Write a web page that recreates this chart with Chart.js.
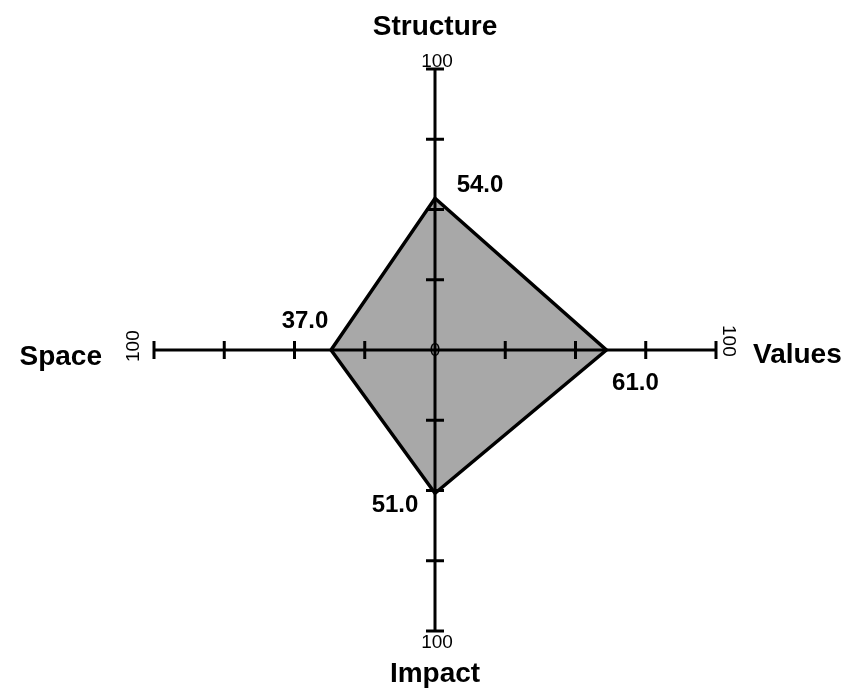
<!DOCTYPE html>
<html>
<head>
<meta charset="utf-8">
<title>Radar</title>
<script src="https://cdn.jsdelivr.net/npm/chart.js@4.4.1/dist/chart.umd.min.js"></script>
<style>
	body { margin: 0; background: #ffffff; }
	#wrap { width: 852px; height: 691px; }
</style>
</head>
<body>
<div id="wrap"><canvas id="radar" width="852" height="691"></canvas></div>
<script>
var axes = ["Structure", "Values", "Impact", "Space"];
var scores = [54, 61, 51, 37];
var tickMarks = [25, 50, 75, 100];
var scaleMin = 0;
var scaleMax = 100;

var FONT = "'Liberation Sans', Arial, sans-serif";

// where each axis title / value label / end label sits, relative to its point
var titleStyle = [
	{ align: "center", dx: 0, dy: -34 },
	{ align: "left", dx: 37, dy: 13 },
	{ align: "center", dx: 0, dy: 51 },
	{ align: "right", dx: -52, dy: 15 }
];
var valueStyle = [
	{ dx: 45, dy: -6 },
	{ dx: 29, dy: 40 },
	{ dx: -40, dy: 19 },
	{ dx: -26, dy: -22 }
];
var endStyle = [
	{ dx: 2, dy: -2, rot: 0, align: "center" },
	{ dx: 7, dy: -25, rot: Math.PI / 2, align: "left" },
	{ dx: 2, dy: 17, rot: 0, align: "center" },
	{ dx: -15, dy: 12, rot: -Math.PI / 2, align: "left" }
];

var axisDecor = {
	id: "axisDecor",
	afterDraw: function(chart) {
		var scale = chart.scales.r;
		var ctx = chart.ctx;
		ctx.save();

		// tick marks across each axis
		ctx.strokeStyle = "#000000";
		ctx.lineWidth = 3;
		for (var i = 0; i < axes.length; i++) {
			var a = scale.getIndexAngle(i) - Math.PI / 2;
			var px = -Math.sin(a), py = Math.cos(a);
			for (var j = 0; j < tickMarks.length; j++) {
				var p = scale.getPointPositionForValue(i, tickMarks[j]);
				ctx.beginPath();
				ctx.moveTo(p.x - px * 9, p.y - py * 9);
				ctx.lineTo(p.x + px * 9, p.y + py * 9);
				ctx.stroke();
			}
		}

		ctx.fillStyle = "#000000";
		ctx.textBaseline = "alphabetic";

		// "0" in the middle, "100" at each end
		ctx.font = "19px " + FONT;
		ctx.textAlign = "center";
		var c = scale.getPointPositionForValue(0, scaleMin);
		ctx.fillText(String(scaleMin), c.x, c.y + 6);
		for (var i = 0; i < axes.length; i++) {
			var e = scale.getPointPositionForValue(i, scaleMax);
			var s = endStyle[i];
			ctx.save();
			ctx.translate(e.x + s.dx, e.y + s.dy);
			ctx.rotate(s.rot);
			ctx.textAlign = s.align;
			ctx.fillText(String(scaleMax), 0, 0);
			ctx.restore();
		}

		// axis titles
		ctx.font = "bold 28px " + FONT;
		for (var i = 0; i < axes.length; i++) {
			var e = scale.getPointPositionForValue(i, scaleMax);
			ctx.textAlign = titleStyle[i].align;
			ctx.fillText(axes[i], e.x + titleStyle[i].dx, e.y + titleStyle[i].dy);
		}

		// value labels next to the polygon corners
		ctx.font = "bold 24px " + FONT;
		ctx.textAlign = "center";
		for (var i = 0; i < scores.length; i++) {
			var v = scale.getPointPositionForValue(i, scores[i]);
			ctx.fillText(scores[i].toFixed(1), v.x + valueStyle[i].dx, v.y + valueStyle[i].dy);
		}
		ctx.restore();
	}
};

var ctx = document.getElementById("radar");

var RadarGraph = new Chart(ctx, {
	type: "radar",
	data: {
		labels: axes,
		datasets: [
			{
				label: "Score",
				data: scores,
				fill: true,
				backgroundColor: "rgb(168, 168, 168)",
				borderColor: "#000000",
				borderWidth: 3.5,
				pointRadius: 0,
				pointHoverRadius: 0
			}
		]
	},
	options: {
		responsive: false,
		animation: false,
		layout: {
			padding: { left: 154, right: 136, top: 69, bottom: 60 }
		},
		plugins: {
			legend: { display: false },
			tooltip: { enabled: false }
		},
		scales: {
			r: {
				min: scaleMin,
				max: scaleMax,
				ticks: { display: false, stepSize: 25 },
				// z above 0 so the axes are drawn over the filled shape
				grid: { display: false, z: 1 },
				angleLines: { display: true, color: "#000000", lineWidth: 3 },
				pointLabels: { display: false }
			}
		}
	},
	plugins: [axisDecor]
});
</script>
</body>
</html>
